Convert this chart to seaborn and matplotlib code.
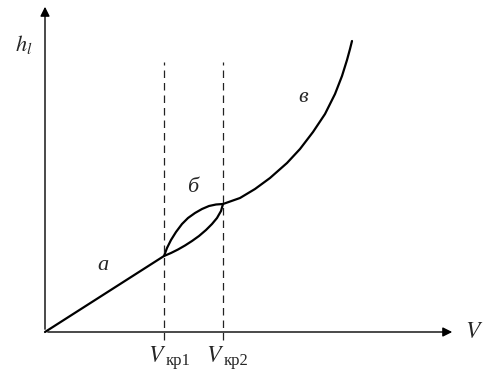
import pandas as pd
import matplotlib.pyplot as plt
import seaborn as sns

# points (x = V, y = h_l, arbitrary units)
a_x = [0, 119]
a_y = [0, 76]

b_up_x = [119, 122, 126, 131, 137, 143, 150, 157, 164, 171, 178]
b_up_y = [76, 84, 92, 100, 108, 114, 119, 123, 126, 127.5, 128]

b_low_x = [119, 126, 133, 140, 147, 154, 161, 167, 172, 176, 178]
b_low_y = [76, 79, 82.5, 86.5, 91, 96, 102, 108, 114, 121, 128]

v_x = [178, 195, 210, 225, 242, 255, 268, 280, 290, 297, 302, 305, 307]
v_y = [128, 134, 143, 154, 169, 183, 200, 218, 238, 256, 272, 283, 291]

v1 = 119
v2 = 178
dash_top = 270
dash_bot = -8

sns.set_style('white')
plt.rcParams['font.family'] = ['Liberation Serif', 'DejaVu Serif']

fig = plt.figure(figsize=(4.94, 3.75), dpi=100)
ax = fig.add_axes([0, 0, 1, 1])

curves = pd.concat([
    pd.DataFrame({'x': a_x, 'y': a_y, 'part': 'a'}),
    pd.DataFrame({'x': b_up_x, 'y': b_up_y, 'part': 'b_up'}),
    pd.DataFrame({'x': b_low_x, 'y': b_low_y, 'part': 'b_low'}),
    pd.DataFrame({'x': v_x, 'y': v_y, 'part': 'v'}),
], ignore_index=True)

sns.lineplot(data=curves, x='x', y='y', units='part', estimator=None, sort=False,
             color='black', lw=1.6, ax=ax)

for xv in [v1, v2]:
    ax.plot([xv, xv], [dash_bot, dash_top], color='#222222', lw=0.9, ls=(0, (6, 4)))

# axes with arrows
ax.annotate('', xy=(410, 0), xytext=(0, 0),
            arrowprops=dict(arrowstyle='-|>', color='black', lw=1, mutation_scale=14))
ax.annotate('', xy=(0, 328), xytext=(0, 0),
            arrowprops=dict(arrowstyle='-|>', color='black', lw=1, mutation_scale=14))

ax.text(-30, 288, r'$h_l$', fontsize=16, ha='left', va='center', math_fontfamily='stix')
ax.text(420, 0, r'$V$', fontsize=17, ha='left', va='center', math_fontfamily='stix')
ax.text(58, 67, 'a', fontsize=16, style='italic', ha='center', va='center')
ax.text(148, 144, 'б', fontsize=16, style='italic', ha='center', va='center')
ax.text(258, 235, 'в', fontsize=16, style='italic', ha='center', va='center')
ax.text(v1 + 2, -24, r'$V$', fontsize=17, ha='right', va='center', math_fontfamily='stix')
ax.text(v1 + 2, -29, 'кр1', fontsize=12, ha='left', va='center')
ax.text(v2 + 1, -24, r'$V$', fontsize=17, ha='right', va='center', math_fontfamily='stix')
ax.text(v2 + 1, -29, 'кр2', fontsize=12, ha='left', va='center')

ax.set_xlim(-45, 449)
ax.set_ylim(-43, 332)
ax.axis('off')

fig.savefig('out.png', dpi=100)
